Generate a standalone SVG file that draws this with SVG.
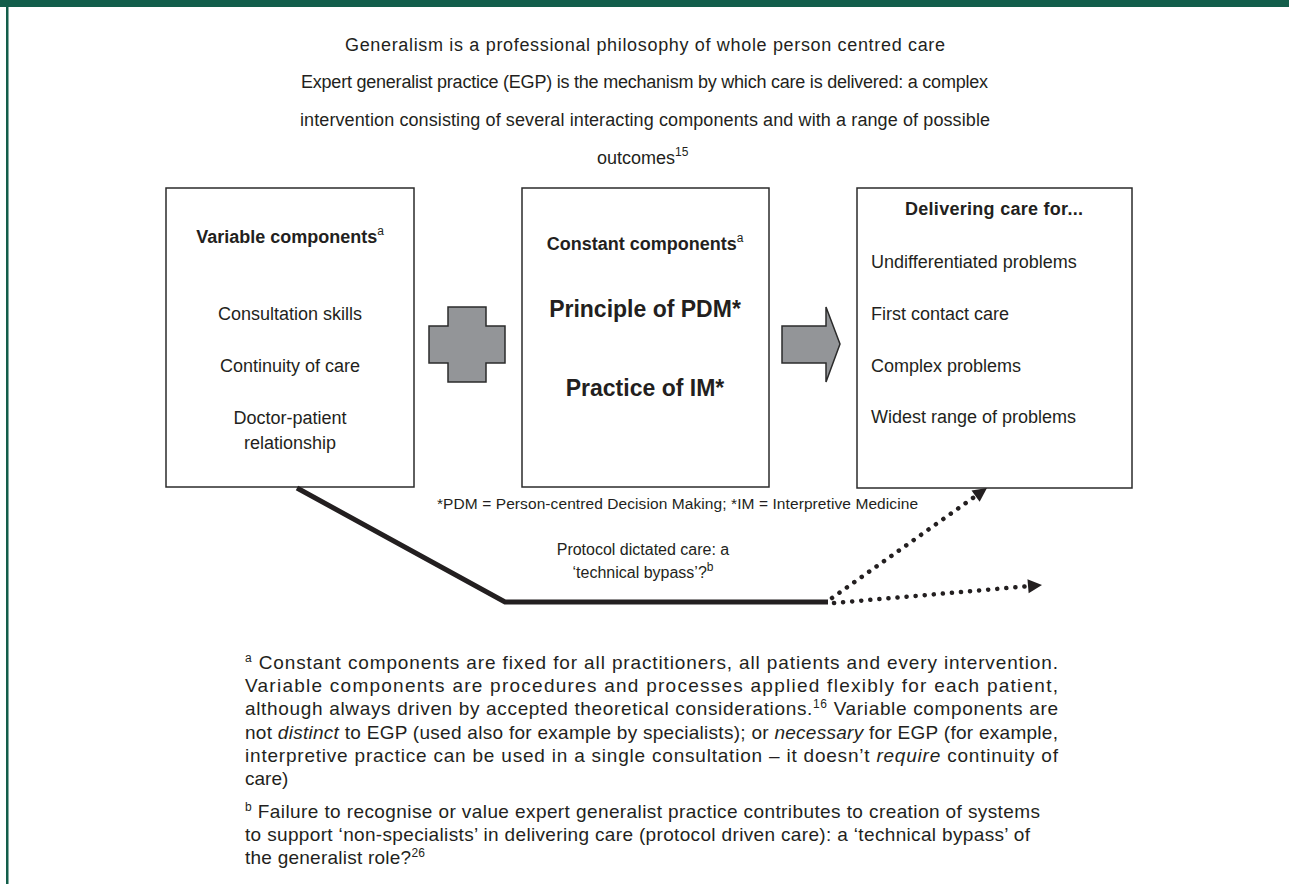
<svg xmlns="http://www.w3.org/2000/svg" width="1289" height="884" viewBox="0 0 1289 884">
<style>
text{font-family:"Liberation Sans",Arial,sans-serif;fill:#231f20}
.t{font-size:18px}
.b{font-size:18px}
.bb{font-size:18px;font-weight:bold}
.big{font-size:23px;font-weight:bold}
.fn{font-size:19px}
.sm{font-size:15.5px}
.lbl{font-size:16px}
.box{fill:#fff;stroke:#2b2b2b;stroke-width:1.5}
.shape{fill:#939598;stroke:#2b2b2b;stroke-width:1.5}
.sup{font-size:12px}
</style>
<defs>
<marker id="ah" markerUnits="userSpaceOnUse" markerWidth="16" markerHeight="16" viewBox="0 0 16 16" refX="15" refY="8" orient="auto">
<path d="M1,1 L15,8 L1,15 Z" fill="#231f20"/>
</marker>
</defs>
<rect width="1289" height="884" fill="#fff"/>
<rect x="0" y="0" width="1289" height="7" fill="#135e4b"/>
<rect x="6" y="0" width="2.5" height="884" fill="#135e4b"/>

<g id="header">
<text class="t" x="345" y="51" textLength="600">Generalism is a professional philosophy of whole person centred care</text>
<text class="t" x="301" y="88" textLength="687">Expert generalist practice (EGP) is the mechanism by which care is delivered: a complex</text>
<text class="t" x="300" y="126" textLength="690">intervention consisting of several interacting components and with a range of possible</text>
<text class="t" x="597" y="164">outcomes<tspan class="sup" dy="-8">15</tspan></text>
</g>

<g id="variable">
<rect class="box" x="166" y="188" width="248" height="299"/>
<text class="bb" x="290" y="243" text-anchor="middle">Variable components<tspan class="sup" font-weight="normal" dy="-8">a</tspan></text>
<text class="b" x="290" y="320" text-anchor="middle">Consultation skills</text>
<text class="b" x="290" y="372" text-anchor="middle">Continuity of care</text>
<text class="b" x="290" y="424" text-anchor="middle">Doctor-patient</text>
<text class="b" x="290" y="449" text-anchor="middle">relationship</text>
</g>

<g id="plus">
<path class="shape" d="M448,307 H486 V326 H505 V363 H486 V382 H448 V363 H429 V326 H448 Z"/>
</g>

<g id="constant">
<rect class="box" x="522" y="188" width="247" height="299"/>
<text class="bb" x="645" y="250" text-anchor="middle">Constant components<tspan class="sup" font-weight="normal" dy="-8">a</tspan></text>
<text class="big" x="645" y="317" text-anchor="middle">Principle of PDM*</text>
<text class="big" x="645" y="396" text-anchor="middle">Practice of IM*</text>
</g>

<g id="arrow">
<path class="shape" d="M782,326 H826 V307 L840,344 L826,382 V363 H782 Z"/>
</g>

<g id="delivering">
<rect class="box" x="857" y="188" width="275" height="300"/>
<text class="bb" x="994" y="215" text-anchor="middle" textLength="178">Delivering care for...</text>
<text class="b" x="871" y="268">Undifferentiated problems</text>
<text class="b" x="871" y="320">First contact care</text>
<text class="b" x="871" y="372">Complex problems</text>
<text class="b" x="871" y="423">Widest range of problems</text>
</g>

<g id="abbrev">
<text class="sm" x="437" y="509" textLength="481">*PDM = Person-centred Decision Making; *IM = Interpretive Medicine</text>
</g>

<g id="connectors">
<polyline points="297,488 505,602 828,602" fill="none" stroke="#231f20" stroke-width="5" stroke-linejoin="miter"/>
<line x1="832" y1="598" x2="987" y2="488" stroke="#231f20" stroke-width="4.5" stroke-linecap="round" stroke-dasharray="0.1 9" marker-end="url(#ah)"/>
<line x1="834" y1="603" x2="1042" y2="585" stroke="#231f20" stroke-width="4.5" stroke-linecap="round" stroke-dasharray="0.1 9" marker-end="url(#ah)"/>
</g>

<g id="bypass-label">
<text class="lbl" x="643" y="555" text-anchor="middle">Protocol dictated care: a</text>
<text class="lbl" x="643" y="578" text-anchor="middle">‘technical bypass’?<tspan class="sup" dy="-7">b</tspan></text>
</g>

<g id="footnotes">
<text class="fn" x="245" y="669" textLength="813"><tspan class="sup" dy="-7">a</tspan><tspan dy="7"> Constant components are fixed for all practitioners, all patients and every intervention.</tspan></text>
<text class="fn" x="245" y="692" textLength="813">Variable components are procedures and processes applied flexibly for each patient,</text>
<text class="fn" x="245" y="715" textLength="813">although always driven by accepted theoretical considerations.<tspan class="sup" dy="-7">16</tspan><tspan dy="7"> Variable components are</tspan></text>
<text class="fn" x="245" y="739" textLength="813">not <tspan font-style="italic">distinct</tspan> to EGP (used also for example by specialists); or <tspan font-style="italic">necessary</tspan> for EGP (for example,</text>
<text class="fn" x="245" y="762" textLength="813">interpretive practice can be used in a single consultation – it doesn’t <tspan font-style="italic">require</tspan> continuity of</text>
<text class="fn" x="245" y="785">care)</text>
<text class="fn" x="245" y="818" textLength="795"><tspan class="sup" dy="-7">b</tspan><tspan dy="7"> Failure to recognise or value expert generalist practice contributes to creation of systems</tspan></text>
<text class="fn" x="245" y="841" textLength="785">to support ‘non-specialists’ in delivering care (protocol driven care):  a ‘technical bypass’ of</text>
<text class="fn" x="245" y="864" textLength="180">the generalist role?<tspan class="sup" dy="-7">26</tspan></text>
</g>
</svg>
